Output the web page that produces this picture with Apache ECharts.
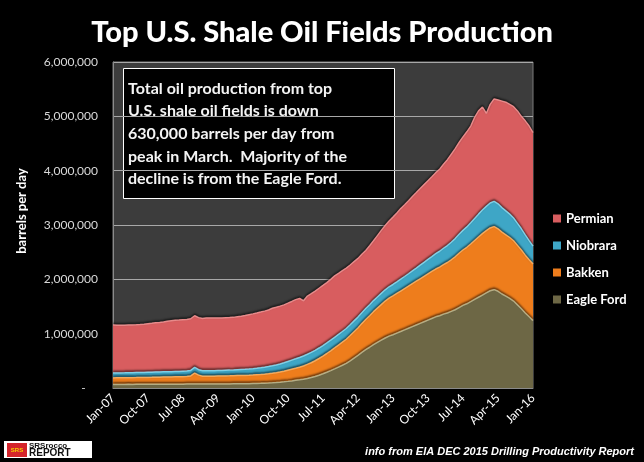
<!DOCTYPE html>
<html>
<head>
<meta charset="utf-8">
<script src="https://cdn.jsdelivr.net/npm/echarts@6/dist/echarts.min.js"></script>
<style>
html,body{margin:0;padding:0;background:#000;}
#chart{width:644px;height:462px;}
</style>
</head>
<body>
<div id="chart"></div>
<script>
// ---- Data (thousand barrels per day), monthly Jan-07 .. Jan-16 ----
const monthNames = ['Jan','Feb','Mar','Apr','May','Jun','Jul','Aug','Sep','Oct','Nov','Dec'];
const yearLabels = ['07','08','09','10','11','12','13','14','15'];
const lastLabel = 'Jan-16';
const seriesNames = ['Eagle Ford','Bakken','Niobrara','Permian'];
const legendOrder = ['Permian','Niobrara','Bakken','Eagle Ford'];
const yTicks = [0,1000,2000,3000,4000,5000,6000];

const eagleFord = [
  65,66,65,66,67,66,67,68,67,68,68,69,
  69,70,69,70,71,70,71,72,72,73,72,73,
  73,72,73,74,74,75,75,76,77,78,79,80,
  82,84,86,89,92,96,101,107,114,122,131,141,
  150,162,176,192,212,235,262,290,320,352,385,418,
  452,500,550,600,655,705,750,800,840,880,920,955,
  980,1010,1040,1070,1100,1130,1160,1190,1220,1250,1280,1310,
  1330,1360,1380,1410,1440,1480,1520,1550,1590,1630,1670,1710,
  1750,1790,1810,1780,1730,1690,1650,1600,1530,1460,1380,1310,
  1240
];
const bakken = [
  120,121,122,122,123,124,124,125,126,127,128,130,
  130,131,132,133,135,136,138,140,150,200,165,145,
  143,144,145,146,147,148,149,150,151,152,153,155,
  157,160,163,166,170,174,180,186,195,205,214,222,
  232,244,258,273,290,308,326,345,365,385,405,425,
  445,465,485,505,530,555,580,605,630,655,680,700,
  715,730,745,760,775,790,805,820,835,850,865,880,
  895,910,930,950,975,1000,1020,1040,1060,1085,1110,1130,
  1145,1155,1160,1150,1140,1130,1120,1110,1095,1080,1065,1050,
  1040
];
const niobrara = [
  90,90,91,91,92,92,93,93,94,94,95,95,
  96,96,97,97,98,98,99,100,101,105,100,100,
  100,101,101,102,103,104,105,106,108,110,112,114,
  117,120,124,128,133,138,144,150,156,162,168,174,
  180,184,188,190,192,193,194,195,195,196,196,197,
  198,199,200,200,201,202,203,204,205,206,207,208,
  210,213,217,222,228,235,242,250,258,266,274,283,
  292,302,312,323,335,348,361,375,390,405,420,435,
  448,460,465,460,450,440,430,418,405,390,372,352,
  330
];
const permian = [
  885,880,878,876,878,879,878,882,888,894,900,906,
  912,918,932,938,942,946,948,950,952,952,958,962,
  974,972,970,968,966,966,967,968,975,982,990,1000,
  1008,1016,1024,1032,1040,1060,1062,1064,1065,1072,1080,1090,
  1085,1015,1070,1080,1090,1100,1105,1110,1120,1130,1125,1120,
  1110,1100,1090,1080,1075,1070,1085,1100,1130,1160,1185,1210,
  1240,1270,1300,1320,1345,1370,1390,1410,1430,1450,1470,1490,
  1510,1545,1580,1620,1655,1690,1720,1750,1780,1860,1900,1895,
  1710,1815,1885,1910,1960,2000,2020,2050,2070,2070,2100,2110,
  2090
];

const categories = [];
yearLabels.forEach(y => monthNames.forEach(m => categories.push(m + '-' + y)));
categories.push(lastLabel);

const styles = {
  'Eagle Ford': {fill:'#6d6745', edge:'#b5ad84', z:5},
  'Bakken':     {fill:'#ee7d1c', edge:'#f7a95a', z:4},
  'Niobrara':   {fill:'#3ea6c6', edge:'#7fd0e6', z:3},
  'Permian':    {fill:'#d85d5f', edge:'#e88a8a', z:2}
};
const values = {'Eagle Ford':eagleFord,'Bakken':bakken,'Niobrara':niobrara,'Permian':permian};

const FONT = 'Lato, "Open Sans", sans-serif';

const chart = echarts.init(document.getElementById('chart'), null, {renderer:'canvas'});
chart.setOption({
  backgroundColor:'#000',
  animation:false,
  title:{
    text:'Top U.S. Shale Oil Fields Production',
    left:'center', top:13,
    textStyle:{color:'#ffffff', fontFamily:FONT, fontWeight:900, fontSize:29}
  },
  grid:{left:113, right:111, top:62, bottom:74, show:true, backgroundColor:'#3c3c3c', borderColor:'#7a7a7a', borderWidth:1},
  legend:{
    data:legendOrder, orient:'vertical', left:548, top:207,
    itemWidth:8, itemHeight:8, itemGap:14, icon:'rect',
    textStyle:{color:'#ffffff', fontFamily:FONT, fontWeight:'bold', fontSize:13, padding:[0,0,0,0]}
  },
  xAxis:{
    type:'category', data:categories, boundaryGap:false,
    axisLine:{lineStyle:{color:'#8a8a8a'}},
    axisTick:{show:false},
    axisLabel:{interval:8, rotate:45, color:'#ffffff', fontFamily:FONT, fontSize:12, margin:8}
  },
  yAxis:{
    type:'value', min:yTicks[0], max:yTicks[yTicks.length-1], interval:1000,
    axisLine:{show:true, lineStyle:{color:'#8a8a8a'}},
    axisTick:{show:false},
    splitLine:{lineStyle:{color:'#a8a8a8', width:1}},
    axisLabel:{color:'#d9d9d9', fontFamily:FONT, fontSize:12, margin:15,
      formatter: v => v === 0 ? '-    ' : (v*1000).toLocaleString('en-US')}
  },
  series: seriesNames.map(name => ({
    name, type:'line', stack:'total', data:values[name],
    showSymbol:false, symbol:'none', z:styles[name].z,
    itemStyle:{color:styles[name].fill},
    lineStyle:{color:styles[name].edge, width:1.5, shadowColor:'rgba(0,0,0,0.75)', shadowBlur:2, shadowOffsetY:-1.5},
    areaStyle:{color:styles[name].fill, opacity:1}
  })),
  graphic:[
    {type:'text', x:22, y:211, rotation:Math.PI/2, style:{
      text:'barrels per day', fill:'#ffffff', font:'bold 13px ' + FONT, align:'center', verticalAlign:'middle'}},
    {type:'group', children:[
      {type:'rect', shape:{x:123.5, y:68.5, width:271, height:130}, style:{fill:'#000000', stroke:'#ffffff', lineWidth:1}},
      {type:'text', x:128, y:77, style:{
        text:'Total oil production from top\nU.S. shale oil fields is down\n630,000 barrels per day from\npeak in March.  Majority of the\ndecline is from the Eagle Ford.',
        fill:'#f4f4f4', font:'bold 16px ' + FONT, lineHeight:22.7}}
    ]},
    {type:'text', right:10, top:446, style:{
      text:'info from EIA DEC 2015 Drilling Productivity Report',
      fill:'#ffffff', font:'italic bold 11px "Liberation Sans", Arial, sans-serif'}},
    {type:'group', children:[
      {type:'rect', shape:{x:4, y:441, width:88, height:17}, style:{fill:'#ffffff'}},
      {type:'rect', shape:{x:7, y:443, width:20, height:14}, style:{fill:'#d4242b'}},
      {type:'text', x:17, y:450, style:{text:'SRS', fill:'#f5d000', font:'bold 6px "Liberation Sans", Arial', align:'center', verticalAlign:'middle'}},
      {type:'text', x:29, y:446, style:{text:'SRSrocco', fill:'#111', font:'bold 8px "Liberation Sans", Arial', verticalAlign:'middle'}},
      {type:'text', x:29, y:453.5, style:{text:'REPORT', fill:'#111', font:'bold 10px "Liberation Sans", Arial', verticalAlign:'middle'}}
    ]}
  ]
});
</script>
</body>
</html>
